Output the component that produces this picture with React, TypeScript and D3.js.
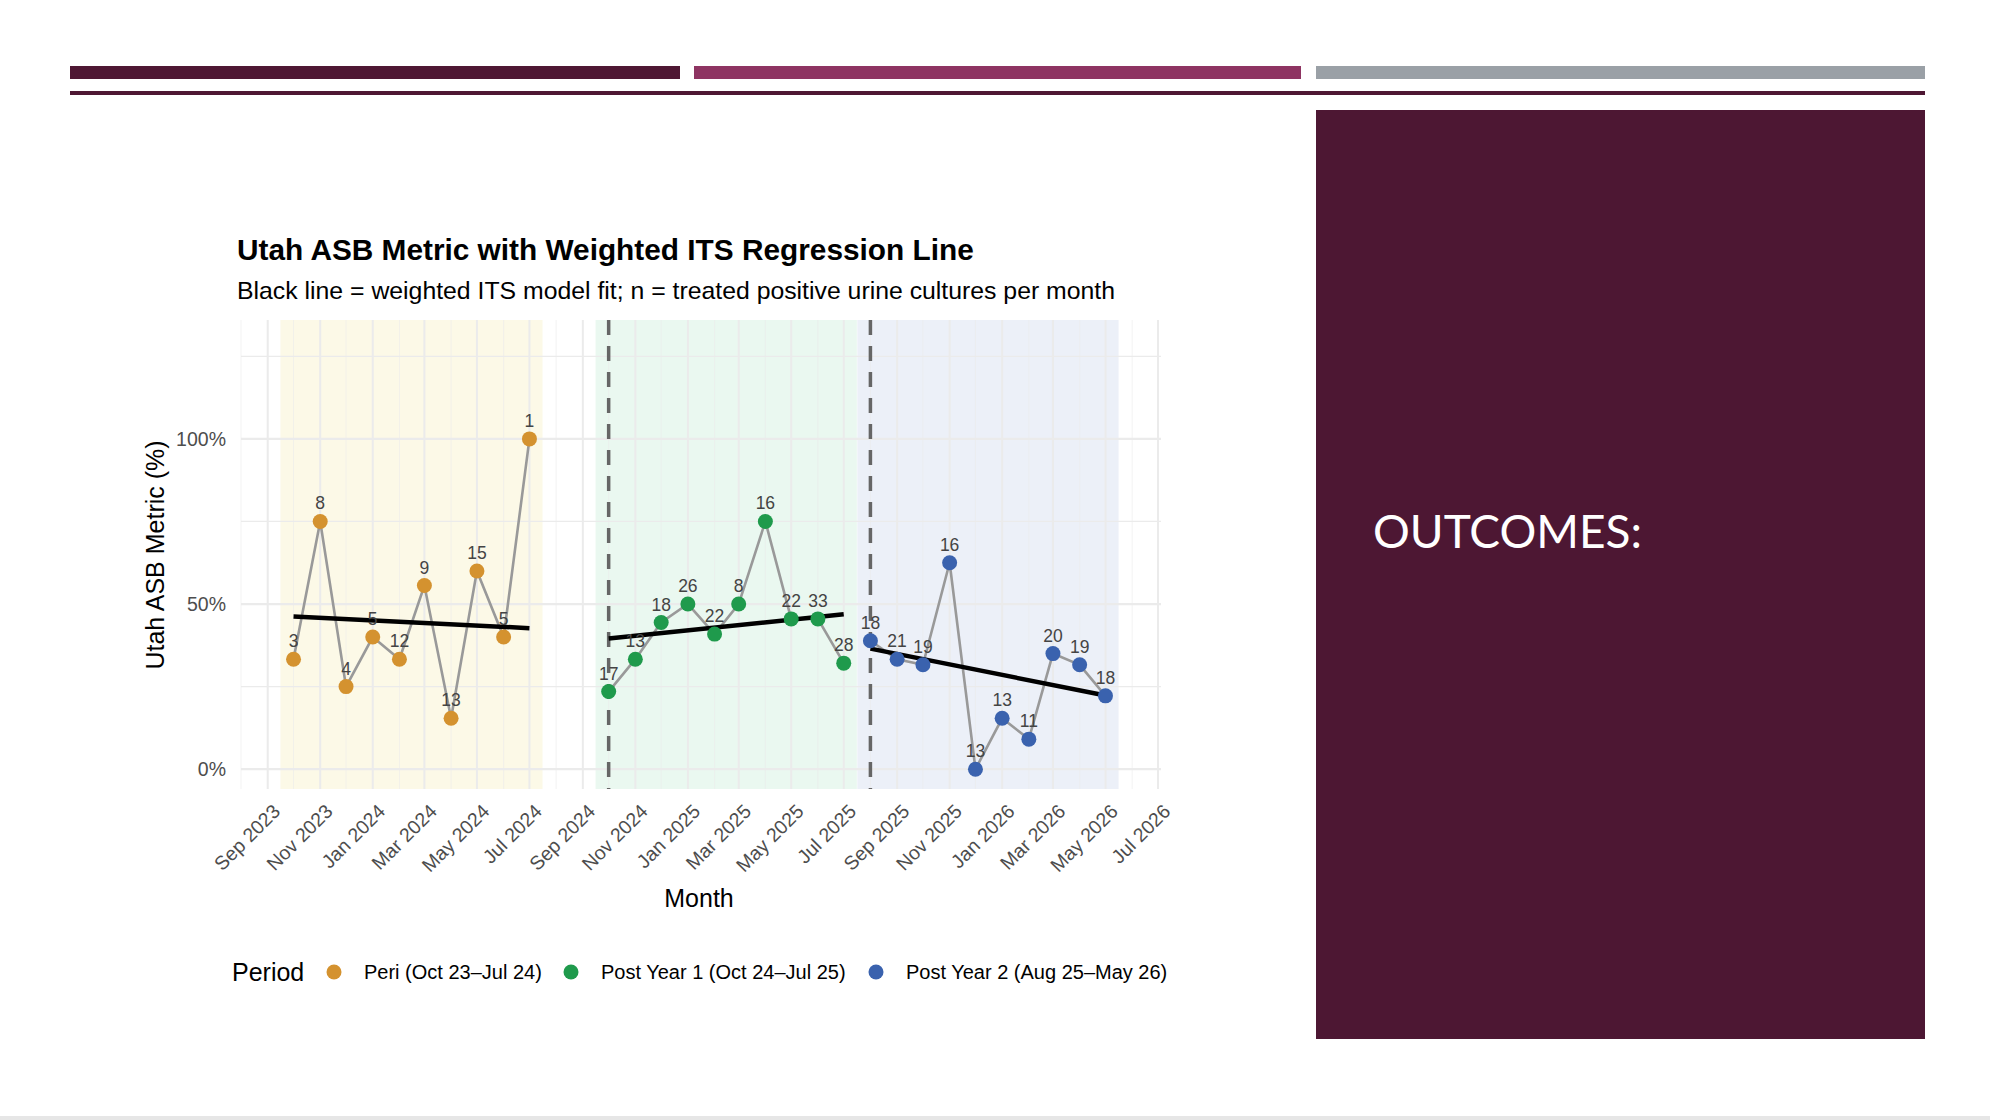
import React from "react";
import * as d3 from "d3";

const periMonths = ["2023-10","2023-11","2023-12","2024-01","2024-02","2024-03","2024-04","2024-05","2024-06","2024-07"];
const periVals = [33.3,75,25,40,33.3,55.6,15.4,60,40,100];
const periN = [3,8,4,5,12,9,13,15,5,1];
const post1Months = ["2024-10","2024-11","2024-12","2025-01","2025-02","2025-03","2025-04","2025-05","2025-06","2025-07"];
const post1Vals = [23.5,33.3,44.4,50,40.9,50,75,45.5,45.5,32.1];
const post1N = [17,13,18,26,22,8,16,22,33,28];
const post2Months = ["2025-08","2025-09","2025-10","2025-11","2025-12","2026-01","2026-02","2026-03","2026-04","2026-05"];
const post2Vals = [38.9,33.3,31.6,62.5,0,15.4,9.1,35,31.6,22.2];
const post2N = [18,21,19,16,13,13,11,20,19,18];
const fitPeri = [46.2,42.7];
const fitPost1 = [39.6,46.9];
const fitPost2 = [36.5,22.3];
const yTicks = [0,50,100];
const yGrid = [0,25,50,75,100,125];
const legendLabels = ["Peri (Oct 23–Jul 24)","Post Year 1 (Oct 24–Jul 25)","Post Year 2 (Aug 25–May 26)"];
const colors = ["#D4922F","#1F9A4C","#3A62AE"];
const bgColors = ["#FCF9E7","#EAF8F0","#ECF0F8"];

const pd = (s: string) => new Date(s + "-01T00:00:00");

export default function App() {
  const x = d3.scaleTime().domain([pd("2023-08"), pd("2026-07")]).range([241, 1158]);
  const y = d3.scaleLinear().domain([-6, 136]).range([789, 320]);
  const xTicks = d3.timeMonth.every(2)!.range(pd("2023-09"), pd("2026-08"));
  const minorTicks = d3.timeMonth.every(1)!.range(pd("2023-08"), pd("2026-08"));
  const fmt = d3.timeFormat("%b %Y");
  const series = [
    { m: periMonths, v: periVals, n: periN, fit: fitPeri },
    { m: post1Months, v: post1Vals, n: post1N, fit: fitPost1 },
    { m: post2Months, v: post2Vals, n: post2N, fit: fitPost2 },
  ];
  const line = d3.line<[Date, number]>().x(d => x(d[0])).y(d => y(d[1]));
  const half = 13.1;
  const font = "'Liberation Sans', Arial, sans-serif";
  return (
    <div style={{ position: "absolute", left: 0, top: 0 }}>
      <svg width={1990} height={1120} style={{ display: "block", background: "#fff" }} fontFamily={font}>
        <rect x={70} y={66} width={610} height={13} fill="#4E1733" />
        <rect x={694} y={66} width={607} height={13} fill="#8E3462" />
        <rect x={1316} y={66} width={609} height={13} fill="#9AA0A6" />
        <rect x={70} y={91} width={1855} height={4} fill="#4E1733" />
        <rect x={1316} y={110} width={609} height={929} fill="#4D1733" />
        <text x={1373} y={548} fill="#fff" fontSize={46} fontFamily="Lato, 'Open Sans', sans-serif">OUTCOMES:</text>
        <rect x={0} y={1116} width={1990} height={4} fill="#e6e6e6" />

        <text x={237} y={260} fontSize={29.8} fontWeight="bold">Utah ASB Metric with Weighted ITS Regression Line</text>
        <text x={237} y={299} fontSize={24.8}>Black line = weighted ITS model fit; n = treated positive urine cultures per month</text>

        {series.map((s, i) => (
          <rect key={"bg" + i} x={x(pd(s.m[0])) - half} y={320} width={x(pd(s.m[s.m.length - 1])) - x(pd(s.m[0])) + 2 * half} height={469} fill={bgColors[i]} />
        ))}
        {minorTicks.map((t, i) => (
          <line key={"mg" + i} x1={x(t)} x2={x(t)} y1={320} y2={789} stroke="#ebebeb" strokeOpacity={0.6} strokeWidth={1} />
        ))}
        {xTicks.map((t, i) => (
          <line key={"xg" + i} x1={x(t)} x2={x(t)} y1={320} y2={789} stroke="#ebebeb" strokeWidth={2} />
        ))}
        {yGrid.map((v, i) => (
          <line key={"yg" + i} x1={241} x2={1161} y1={y(v)} y2={y(v)} stroke="#ebebeb" strokeWidth={v % 50 === 0 ? 2.2 : 1.2} />
        ))}
        {[pd("2024-10"), pd("2025-08")].map((t, i) => (
          <line key={"dl" + i} x1={x(t)} x2={x(t)} y1={320} y2={789} stroke="#666" strokeWidth={3.5} strokeDasharray="15,11" />
        ))}
        {series.map((s, i) => (
          <path key={"gl" + i} d={line(s.m.map((m, j) => [pd(m), s.v[j]]))!} fill="none" stroke="#999" strokeWidth={2.6} />
        ))}
        {series.map((s, i) => (
          <path key={"fl" + i} d={line([[pd(s.m[0]), s.fit[0]], [pd(s.m[s.m.length - 1]), s.fit[1]]])!} fill="none" stroke="#000" strokeWidth={4.5} />
        ))}
        {series.map((s, i) => s.m.map((m, j) => (
          <circle key={"pt" + i + "-" + j} cx={x(pd(m))} cy={y(s.v[j])} r={7.5} fill={colors[i]} />
        )))}
        {series.map((s, i) => s.m.map((m, j) => (
          <text key={"lb" + i + "-" + j} x={x(pd(m))} y={y(s.v[j]) - 12} fontSize={17.5} fill="#444" textAnchor="middle">{s.n[j]}</text>
        )))}

        {yTicks.map((v, i) => (
          <text key={"yt" + i} x={226} y={y(v)} dy="0.35em" fontSize={19.5} fill="#4d4d4d" textAnchor="end">{v}%</text>
        ))}
        {xTicks.map((t, i) => (
          <text key={"xt" + i} transform={`translate(${x(t) + 4},${803}) rotate(-45)`} fontSize={19.5} fill="#4d4d4d" textAnchor="end" dy="0.7em">{fmt(t)}</text>
        ))}
        <text x={699} y={907} fontSize={25} textAnchor="middle">Month</text>
        <text transform="translate(164,555) rotate(-90)" fontSize={25} textAnchor="middle">Utah ASB Metric (%)</text>

        <text x={232} y={981} fontSize={25}>Period</text>
        {legendLabels.map((l, i) => {
          const cx = [334, 571, 876][i];
          return (
            <g key={"lg" + i}>
              <circle cx={cx} cy={972} r={7.5} fill={colors[i]} />
              <text x={cx + 30} y={972} dy="0.35em" fontSize={20}>{l}</text>
            </g>
          );
        })}
      </svg>
    </div>
  );
}
